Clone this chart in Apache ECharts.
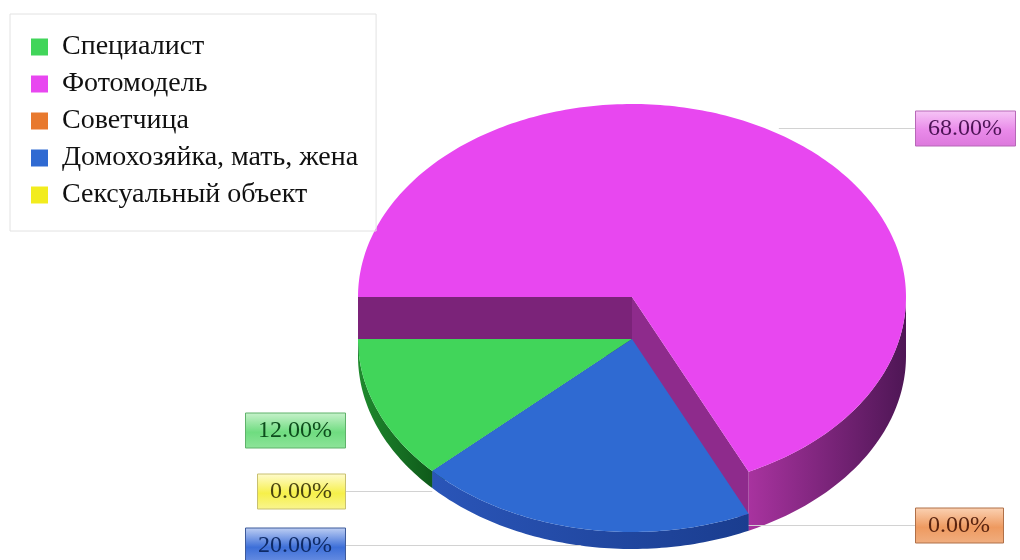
<!DOCTYPE html>
<html>
<head>
<meta charset="utf-8">
<script src="https://cdn.jsdelivr.net/npm/echarts@6/dist/echarts.min.js"></script>
<style>
  html, body { margin: 0; padding: 0; background: #ffffff; }
  #chart { width: 1020px; height: 560px; }
</style>
</head>
<body>
<div id="chart"></div>
<script>
// Role distribution, percent of respondents
const categories = ['Специалист', 'Фотомодель', 'Советчица', 'Домохозяйка, мать, жена', 'Сексуальный объект'];
const shares = [12, 68, 0, 20, 0];

// Colours: top face, side face, label box gradient, label text
const topColors  = ['#41d55a', '#e847f0', '#e8792e', '#2f6ad2', '#f2ec1e'];
const sideColors = [['#1f8a2e', '#0f5a1a'], ['#a8339f', '#4e1655'], ['#b85a20', '#7a3810'], ['#2a55b8', '#1a3d8f'], ['#c8c010', '#8a8408']];
const radialColors = { start: '#7b2379', end: '#8e2b8c' };
const labelFills = [
  ['#c8f2cc', '#6fdc80', '#8ee49a'],
  ['#f6c6f6', '#e98ae9', '#dc78dc'],
  ['#fbd2b4', '#ee9a60', '#f0ae80'],
  ['#c0d0f4', '#3d6fd8', '#6c90e2'],
  ['#fffbd0', '#f6f04a', '#f9f590']
];
const labelBorders = ['#5fb26a', '#b768b7', '#b07048', '#3d5a9a', '#c8c070'];
const labelInk = ['#0d4d1c', '#4d1356', '#5a2410', '#0e2a66', '#4a4410'];

// Label placement: box centre y, side of the pie, whether a leader line is drawn
const labelPlace = [
  { y: 430, side: 'left',  line: false },
  { y: 128, side: 'right', line: true },
  { y: 525, side: 'right', line: true },
  { y: 545, side: 'left',  line: true },
  { y: 491, side: 'left',  line: true }
];

// Pie geometry (screen pixels)
const CX = 632, CY_TOP = 339, RX = 274, RY = 193, DEPTH = 17, LIFT = 42;
const BASE_Y = CY_TOP + DEPTH;
const START = (223.2 / 180) * Math.PI;   // slices run clockwise from here
const LEFT_EDGE = 345, RIGHT_EDGE = 915;
const LABEL_FONT = '24px "Liberation Serif", "DejaVu Serif", serif';

const total = shares.reduce((a, b) => a + b, 0);
const maxIdx = shares.indexOf(Math.max.apply(null, shares));

const measureCtx = document.createElement('canvas').getContext('2d');
function textWidth(t) { measureCtx.font = LABEL_FONT; return measureCtx.measureText(t).width; }

function pt(a, cy) { return [CX + RX * Math.cos(a), cy - RY * Math.sin(a)]; }
function arc(s, e, cy) {
  const n = Math.max(2, Math.ceil(Math.abs(e - s) / (Math.PI / 180)));
  const out = [];
  for (let k = 0; k <= n; k++) out.push(pt(s + (e - s) * k / n, cy));
  return out;
}
// angle ranges whose outer wall faces the viewer (lower half of the ellipse)
function frontRanges(lo, hi) {
  const out = [];
  for (let k = -2; k <= 2; k++) {
    const s = Math.max(lo, -Math.PI + 2 * Math.PI * k);
    const e = Math.min(hi, 2 * Math.PI * k);
    if (e > s + 1e-6) out.push([s, e]);
  }
  return out;
}

function renderSlice(params, api) {
  const i = params.seriesIndex;
  const v = api.value(0);
  let before = 0;
  for (let k = 0; k < i; k++) before += shares[k];
  const a0 = START - before / total * 2 * Math.PI;
  const a1 = a0 - v / total * 2 * Math.PI;
  const topY = i === maxIdx ? CY_TOP - LIFT : CY_TOP;
  const children = [];

  if (v > 0) {
    // radial side walls
    if (Math.cos(a0) < 0) {
      const r0 = pt(a0, topY), r1 = pt(a0, BASE_Y);
      children.push({ type: 'polygon', shape: { points: [[CX, topY], r0, r1, [CX, BASE_Y]] },
        style: { fill: i === maxIdx ? radialColors.start : sideColors[i][1] } });
    }
    if (Math.cos(a1) > 0) {
      const r0 = pt(a1, topY), r1 = pt(a1, BASE_Y);
      children.push({ type: 'polygon', shape: { points: [[CX, topY], r0, r1, [CX, BASE_Y]] },
        style: { fill: i === maxIdx ? radialColors.end : sideColors[i][1] } });
    }
    // outer curved wall
    frontRanges(a1, a0).forEach(function (r) {
      const pts = arc(r[0], r[1], topY).concat(arc(r[1], r[0], BASE_Y));
      children.push({ type: 'polygon', shape: { points: pts },
        style: { fill: new echarts.graphic.LinearGradient(0, 0, 1, 0, [
          { offset: 0, color: sideColors[i][0] }, { offset: 1, color: sideColors[i][1] }]) } });
    });
    // top face
    const face = [[CX, topY]].concat(arc(a0, a1, topY));
    children.push({ type: 'polygon', shape: { points: face }, style: { fill: topColors[i] } });
  }

  // value label with leader line
  const place = labelPlace[i];
  const txt = v.toFixed(2) + '%';
  const w = Math.round(textWidth(txt) + 26), h = 35;
  const anchorA = v > 0 ? (a0 + a1) / 2 : a0;
  const anchorX = pt(anchorA, topY)[0];
  const bx = place.side === 'left' ? LEFT_EDGE - w : RIGHT_EDGE;
  if (place.line) {
    const lx0 = place.side === 'left' ? LEFT_EDGE : anchorX;
    const lx1 = place.side === 'left' ? anchorX : RIGHT_EDGE;
    children.push({ type: 'line', z2: 50, shape: { x1: lx0, y1: place.y + 0.5, x2: lx1, y2: place.y + 0.5 },
      style: { stroke: '#d2d2d2', lineWidth: 1 } });
  }
  children.push({ type: 'rect', z2: 60, shape: { x: bx + 0.5, y: place.y - h / 2 + 0.5, width: w, height: h },
    style: { fill: new echarts.graphic.LinearGradient(0, 0, 0, 1, [
      { offset: 0, color: labelFills[i][0] }, { offset: 0.55, color: labelFills[i][1] }, { offset: 1, color: labelFills[i][2] }]),
      stroke: labelBorders[i], lineWidth: 1 } });
  children.push({ type: 'text', z2: 61, style: { text: txt, x: bx + w / 2, y: place.y + 1,
    align: 'center', verticalAlign: 'middle', font: LABEL_FONT, fill: labelInk[i] } });

  return { type: 'group', children: children };
}

const series = categories.map(function (name, i) {
  return {
    type: 'custom',
    name: name,
    coordinateSystem: 'none',
    z: i === maxIdx ? 1 : 2,
    itemStyle: { color: topColors[i] },
    silent: true,
    renderItem: renderSlice,
    data: [[shares[i]]]
  };
});

const chart = echarts.init(document.getElementById('chart'), null, { renderer: 'canvas' });
chart.setOption({
  backgroundColor: '#ffffff',
  animation: false,
  legend: {
    orient: 'vertical',
    left: 10,
    top: 14,
    padding: [19, 18, 22, 21],
    borderColor: '#e2e2e2',
    borderWidth: 1,
    icon: 'rect',
    itemWidth: 17,
    itemHeight: 17,
    itemGap: 9,
    selectedMode: false,
    data: categories,
    textStyle: {
      fontFamily: '"Liberation Serif", "DejaVu Serif", serif',
      fontSize: 28,
      color: '#111111',
      lineHeight: 22,
      padding: [0, 0, 0, 9]
    }
  },
  series: series
});
</script>
</body>
</html>
